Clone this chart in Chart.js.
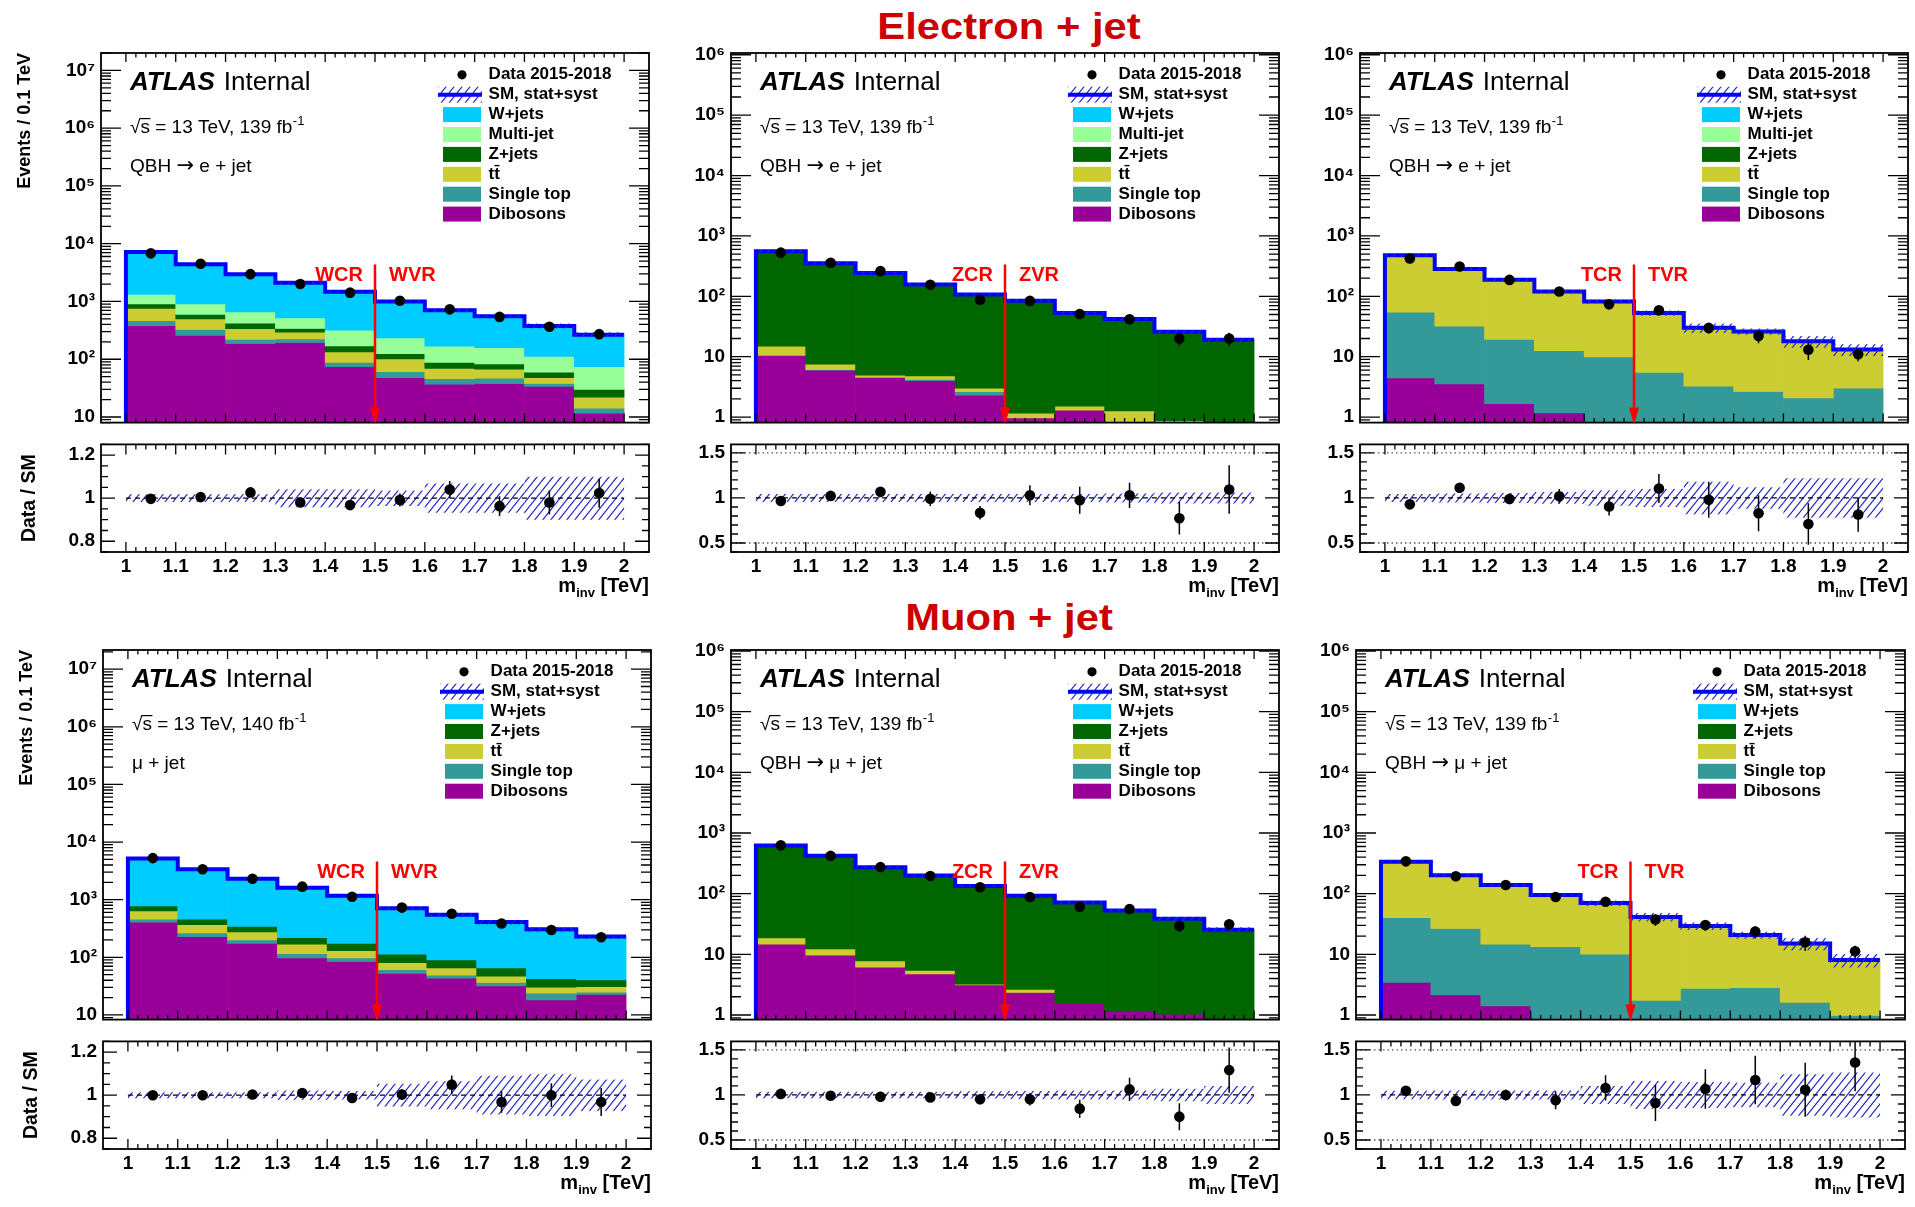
<!DOCTYPE html>
<html>
<head>
<meta charset="utf-8">
<script src="https://cdn.jsdelivr.net/npm/chart.js@4.4.1/dist/chart.umd.min.js"></script>
<style>
  html, body { margin: 0; padding: 0; background: #fff; }
  #root { position: relative; width: 1915px; height: 1207px; overflow: hidden; background: #fff; }
  #root canvas { position: absolute; }
  .ttl { position: absolute; font: bold 36px "Liberation Sans", Arial, Helvetica, sans-serif; line-height: 36px;
         color: #cc0000; white-space: nowrap; transform: translateX(-50%) scaleX(1.16); }
</style>
</head>
<body>
<div id="root">
  <div class="ttl" style="left:1009px; top:9px;">Electron + jet</div>
  <div class="ttl" style="left:1009px; top:600px;">Muon + jet</div>
</div>
<script>
// ---------------- DATA ----------------
const binEdges   = [1.0, 1.1, 1.2, 1.3, 1.4, 1.5, 1.6, 1.7, 1.8, 1.9, 2.0];
const binCenters = [1.05, 1.15, 1.25, 1.35, 1.45, 1.55, 1.65, 1.75, 1.85, 1.95];
const xTickLabels = ['1', '1.1', '1.2', '1.3', '1.4', '1.5', '1.6', '1.7', '1.8', '1.9', '2'];
const regionBoundary = 1.5;

// stack order bottom -> top
const sampleNames  = ['Dibosons', 'Single top', 'tt\u0304', 'Z+jets', 'Multi-jet', 'W+jets'];
const sampleColors = ['#990099', '#339999', '#cccc33', '#006600', '#99ff99', '#00ccff'];

// Electron + jet, W+jets region
const eW_dibosons  = [382, 258, 187, 195, 74, 48, 37, 38, 34, 11.7];
const eW_singletop = [82, 69, 34, 30, 14, 13, 9, 9, 4, 2.5];
const eW_ttbar     = [293, 171, 116, 68, 46, 40, 23, 20, 10, 7.8];
const eW_zjets     = [151, 99, 84, 48, 36, 24, 19, 16, 12, 8];
const eW_multijet  = [412, 313, 237, 178, 148, 109, 80, 75, 52, 44];
const eW_wjets     = [5840, 3480, 2312, 1581, 1162, 766, 537, 398, 265, 192];
const eW_data      = [6800, 4500, 2970, 2000, 1420, 1030, 730, 540, 366, 272];
const eW_ratio     = [0.997, 1.005, 1.027, 0.98, 0.968, 0.992, 1.04, 0.963, 0.98, 1.024];
const eW_ratioErr  = [0.005, 0.006, 0.008, 0.01, 0.015, 0.03, 0.04, 0.046, 0.056, 0.068];
const eW_band      = [0.018, 0.018, 0.018, 0.042, 0.042, 0.036, 0.068, 0.068, 0.1, 0.1];

// Electron + jet, Z+jets region
const eZ_dibosons  = [10.4, 6.0, 4.5, 4.0, 2.3, 0.97, 1.3, 0, 0, 0];
const eZ_singletop = [0.2, 0.1, 0.1, 0.2, 0.33, 0, 0, 0, 0, 0];
const eZ_ttbar     = [4.3, 1.4, 0.35, 0.6, 0.37, 0.19, 0.21, 1.27, 0.87, 0];
const eZ_zjets     = [542, 346, 239, 152, 104, 83, 51.5, 40.7, 25.1, 19];
const eZ_multijet  = [0, 0, 0, 0, 0, 0, 0, 0, 0, 0];
const eZ_wjets     = [0, 0, 0, 0, 0, 0, 0, 0, 0, 0];
const eZ_data      = [528, 359, 261, 155, 87.5, 84, 51, 41.5, 20, 20];
const eZ_ratio     = [0.966, 1.023, 1.068, 0.992, 0.835, 1.03, 0.974, 1.03, 0.774, 1.094];
const eZ_ratioErr  = [0.03, 0.04, 0.05, 0.08, 0.075, 0.11, 0.15, 0.14, 0.18, 0.27];
const eZ_band      = [0.045, 0.045, 0.045, 0.045, 0.045, 0.045, 0.045, 0.05, 0.06, 0.06];

// Electron + jet, top region
const eT_dibosons  = [4.46, 3.55, 1.66, 1.17, 0, 0, 0, 0, 0, 0];
const eT_singletop = [50.3, 28.6, 17.7, 11.4, 9.9, 5.5, 3.24, 2.65, 2.08, 3.0];
const eT_ttbar     = [422, 251, 168, 107, 72, 47.5, 26.8, 23.6, 16, 10.2];
const eT_zjets     = [0, 0, 0, 0, 0, 0, 0, 0, 0, 0];
const eT_multijet  = [0, 0, 0, 0, 0, 0, 0, 0, 0, 0];
const eT_wjets     = [0, 0, 0, 0, 0, 0, 0, 0, 0, 0];
const eT_data      = [423, 311, 187, 120, 73.6, 58.6, 30, 22, 13, 11];
const eT_ratio     = [0.929, 1.113, 0.989, 1.019, 0.906, 1.105, 0.981, 0.831, 0.711, 0.816];
const eT_ratioErr  = [0.03, 0.045, 0.06, 0.08, 0.1, 0.16, 0.2, 0.2, 0.23, 0.19];
const eT_band      = [0.045, 0.05, 0.055, 0.065, 0.085, 0.1, 0.18, 0.12, 0.22, 0.22];

// Muon + jet, W+jets region
const mW_dibosons  = [408, 229, 174, 98, 84.7, 52.6, 43.6, 31.8, 18.3, 22.8];
const mW_singletop = [50, 36, 27, 18, 13.3, 8.2, 5.4, 4.8, 5.5, 2.0];
const mW_ttbar     = [181, 104, 76, 53, 33, 20.2, 16.3, 10.3, 6.6, 6.0];
const mW_zjets     = [143, 89, 67, 51, 43, 32, 24.4, 18.4, 12.0, 9.7];
const mW_wjets     = [4408, 2907, 1966, 1390, 998, 594, 456, 343, 264, 189];
const mW_data      = [5260, 3365, 2310, 1682, 1122, 728, 569, 385, 297, 223];
const mW_ratio     = [1.0, 1.0, 1.003, 1.01, 0.987, 1.003, 1.049, 0.968, 1.0, 0.968];
const mW_ratioErr  = [0.004, 0.005, 0.006, 0.015, 0.02, 0.025, 0.043, 0.05, 0.055, 0.065];
const mW_band      = [0.014, 0.014, 0.014, 0.022, 0.02, 0.053, 0.065, 0.09, 0.097, 0.073];

// Muon + jet, Z+jets region
const mZ_dibosons  = [14.7, 9.7, 6.17, 4.75, 3.14, 2.35, 1.58, 1.15, 1.03, 0];
const mZ_singletop = [0, 0, 0, 0, 0, 0, 0, 0, 0, 0];
const mZ_ttbar     = [3.9, 2.6, 1.6, 0.7, 0.09, 0.28, 0, 0, 0, 0];
const mZ_zjets     = [607, 408, 266, 194, 131, 89.4, 70.2, 51.9, 37.7, 25.5];
const mZ_wjets     = [0, 0, 0, 0, 0, 0, 0, 0, 0, 0];
const mZ_data      = [626, 420, 274, 196, 128, 88, 61, 56, 29.3, 31.4];
const mZ_ratio     = [1.012, 0.992, 0.981, 0.973, 0.953, 0.953, 0.848, 1.062, 0.759, 1.276];
const mZ_ratioErr  = [0.02, 0.025, 0.03, 0.045, 0.055, 0.07, 0.1, 0.13, 0.15, 0.25];
const mZ_band      = [0.035, 0.035, 0.035, 0.035, 0.04, 0.045, 0.05, 0.05, 0.07, 0.1];

// Muon + jet, top region
const mT_dibosons  = [3.46, 2.14, 1.41, 0, 0, 0, 0, 0, 0, 0];
const mT_singletop = [36.8, 24.5, 13.3, 13.4, 10.1, 1.74, 2.74, 2.81, 1.62, 0.98];
const mT_ttbar     = [297, 175, 124, 81.3, 59.8, 39.7, 26.6, 18, 13.5, 7.1];
const mT_zjets     = [0, 0, 0, 0, 0, 0, 0, 0, 0, 0];
const mT_wjets     = [0, 0, 0, 0, 0, 0, 0, 0, 0, 0];
const mT_data      = [341, 194, 139, 88, 73.8, 37.6, 30.5, 23.8, 15.8, 11.2];
const mT_ratio     = [1.047, 0.934, 1.0, 0.942, 1.078, 0.911, 1.066, 1.167, 1.058, 1.36];
const mT_ratioErr  = [0.04, 0.05, 0.06, 0.1, 0.14, 0.2, 0.22, 0.27, 0.3, 0.32];
const mT_band      = [0.048, 0.05, 0.05, 0.05, 0.1, 0.155, 0.145, 0.135, 0.23, 0.25];

const narrowRatioTicks = ['0.8', '1', '1.2'];
const wideRatioTicks   = ['0.5', '1', '1.5'];
const wideRatioGuides  = [0.5, 1.5];

// ---------------- LAYOUT ----------------
const FONT = '"Liberation Sans", Arial, Helvetica, sans-serif';
const ARROW_FONT = '"DejaVu Sans", sans-serif';
Chart.defaults.font.family = FONT;
Chart.defaults.color = '#000';

const ROWS = [
  {mainTop: 53, mainBot: 430, ratioTop: 439, ratioBot: 552},
  {mainTop: 650, mainBot: 1027, ratioTop: 1036, ratioBot: 1149}
];
const YW = 100, PADR = 10, XH = 56;

const panels = [
  {row: 0, left: 101, right: 649, first: true,
   comps: [eW_dibosons, eW_singletop, eW_ttbar, eW_zjets, eW_multijet, eW_wjets],
   data: eW_data, ratio: eW_ratio, ratioErr: eW_ratioErr, band: eW_band,
   yMin: 8.0, yMax: 2.0e7, rMin: 0.75, rMax: 1.25, rTicks: narrowRatioTicks, rStep: 0.05, guides: [],
   lumi: '139', channel: ['QBH ', '\u2192', ' e + jet'], regions: ['WCR', 'WVR']},
  {row: 0, left: 731, right: 1279, first: false,
   comps: [eZ_dibosons, eZ_singletop, eZ_ttbar, eZ_zjets, eZ_multijet, eZ_wjets],
   data: eZ_data, ratio: eZ_ratio, ratioErr: eZ_ratioErr, band: eZ_band,
   yMin: 0.81, yMax: 1.07e6, rMin: 0.4, rMax: 1.595, rTicks: wideRatioTicks, rStep: 0.1, guides: wideRatioGuides,
   lumi: '139', channel: ['QBH ', '\u2192', ' e + jet'], regions: ['ZCR', 'ZVR']},
  {row: 0, left: 1360, right: 1908, first: false,
   comps: [eT_dibosons, eT_singletop, eT_ttbar, eT_zjets, eT_multijet, eT_wjets],
   data: eT_data, ratio: eT_ratio, ratioErr: eT_ratioErr, band: eT_band,
   yMin: 0.81, yMax: 1.07e6, rMin: 0.4, rMax: 1.595, rTicks: wideRatioTicks, rStep: 0.1, guides: wideRatioGuides,
   lumi: '139', channel: ['QBH ', '\u2192', ' e + jet'], regions: ['TCR', 'TVR']},
  {row: 1, left: 103, right: 651, first: true,
   comps: [mW_dibosons, mW_singletop, mW_ttbar, mW_zjets, null, mW_wjets],
   data: mW_data, ratio: mW_ratio, ratioErr: mW_ratioErr, band: mW_band,
   yMin: 8.3, yMax: 2.15e7, rMin: 0.75, rMax: 1.25, rTicks: narrowRatioTicks, rStep: 0.05, guides: [],
   lumi: '140', channel: ['\u03bc + jet'], regions: ['WCR', 'WVR']},
  {row: 1, left: 731, right: 1279, first: false,
   comps: [mZ_dibosons, mZ_singletop, mZ_ttbar, mZ_zjets, null, mZ_wjets],
   data: mZ_data, ratio: mZ_ratio, ratioErr: mZ_ratioErr, band: mZ_band,
   yMin: 0.84, yMax: 1.04e6, rMin: 0.4, rMax: 1.595, rTicks: wideRatioTicks, rStep: 0.1, guides: wideRatioGuides,
   lumi: '139', channel: ['QBH ', '\u2192', ' \u03bc + jet'], regions: ['ZCR', 'ZVR']},
  {row: 1, left: 1356, right: 1905, first: false,
   comps: [mT_dibosons, mT_singletop, mT_ttbar, mT_zjets, null, mT_wjets],
   data: mT_data, ratio: mT_ratio, ratioErr: mT_ratioErr, band: mT_band,
   yMin: 0.84, yMax: 1.04e6, rMin: 0.4, rMax: 1.595, rTicks: wideRatioTicks, rStep: 0.1, guides: wideRatioGuides,
   lumi: '139', channel: ['QBH ', '\u2192', ' \u03bc + jet'], regions: ['TCR', 'TVR']}
];

// ---------------- HELPERS ----------------
const SUP = {'0': '\u2070', '1': '\u00b9', '2': '\u00b2', '3': '\u00b3', '4': '\u2074', '5': '\u2075', '6': '\u2076', '7': '\u2077', '8': '\u2078', '9': '\u2079'};
function decadeLabel(v) {
  const e = Math.round(Math.log10(v));
  if (e === 0) return '1';
  if (e === 1) return '10';
  return '10' + String(e).split('').map(c => SUP[c]).join('');
}
function hatchPattern(ctx) {
  const c = document.createElement('canvas');
  c.width = 8; c.height = 10;
  const g = c.getContext('2d');
  g.strokeStyle = '#2828c8';
  g.lineWidth = 1.15;
  g.beginPath();
  g.moveTo(-1, 11.25); g.lineTo(9, -1.25);
  g.moveTo(-1, 1.25); g.lineTo(1, -1.25);
  g.moveTo(7, 11.25); g.lineTo(9, 8.75);
  g.stroke();
  return ctx.createPattern(c, 'repeat');
}
const xTickVals = xTickLabels.map(Number);
function xTickSpec() {
  const out = [], lo = binEdges[0], hi = binEdges[binEdges.length - 1];
  for (let i = 0; i <= 50; i++) out.push({v: lo + i * (hi - lo) / 50, major: i % 5 === 0});
  return out;
}
function logTickSpec(min, max) {
  const out = [];
  for (let e = Math.floor(Math.log10(min)); e <= Math.ceil(Math.log10(max)); e++)
    for (let k = 1; k <= 9; k++) {
      const v = k * Math.pow(10, e);
      if (v >= min && v <= max) out.push({v, major: k === 1});
    }
  return out;
}
function linTickSpec(min, max, step, majors) {
  const out = [];
  for (let i = Math.ceil(min / step - 1e-9); i * step <= max + 1e-9; i++) {
    const v = i * step;
    out.push({v, major: majors.some(m => Math.abs(m - v) < 1e-6)});
  }
  return out;
}
function frameTicksPlugin(spec) {
  return {
    id: 'frameTicks',
    afterDatasetsDraw(chart) {
      const {ctx, chartArea: a, scales: {x, y}} = chart;
      ctx.save();
      ctx.strokeStyle = '#000';
      ctx.lineWidth = 1.3;
      ctx.beginPath();
      for (const t of spec.x) {
        const px = x.getPixelForValue(t.v);
        const len = t.major ? spec.xMaj : spec.xMin;
        ctx.moveTo(px, a.bottom); ctx.lineTo(px, a.bottom - len);
        ctx.moveTo(px, a.top); ctx.lineTo(px, a.top + len);
      }
      for (const t of spec.y) {
        const py = y.getPixelForValue(t.v);
        if (py < a.top - 0.5 || py > a.bottom + 0.5) continue;
        const len = t.major ? spec.yMaj : spec.yMin;
        ctx.moveTo(a.left, py); ctx.lineTo(a.left + len, py);
        ctx.moveTo(a.right, py); ctx.lineTo(a.right - len, py);
      }
      ctx.stroke();
      ctx.lineWidth = 1.8;
      ctx.strokeRect(a.left, a.top, a.right - a.left, a.bottom - a.top);
      ctx.restore();
    }
  };
}
function mainAnnotPlugin(p, getPattern) {
  return {
    id: 'mainAnnot',
    afterDraw(chart) {
      const {ctx, chartArea: a, scales: {x}} = chart;
      const L = a.left, T = a.top;
      ctx.save();
      ctx.textAlign = 'left';
      ctx.fillStyle = '#000';
      ctx.textBaseline = 'middle';
      ctx.font = `italic bold 26px ${FONT}`;
      ctx.fillText('ATLAS', L + 29, T + 30);
      const wA = ctx.measureText('ATLAS').width;
      ctx.font = `26px ${FONT}`;
      ctx.fillText('Internal', L + 29 + wA + 9, T + 30);

      // sqrt(s) line
      ctx.textBaseline = 'alphabetic';
      const base1 = T + 80;
      ctx.font = `19px ${FONT}`;
      const rad = '\u221a';
      const mRad = ctx.measureText(rad);
      const wRad = mRad.width;
      const wRs = ctx.measureText(rad + 's').width;
      const en = rad + 's = 13 TeV, ' + p.lumi + ' fb';
      ctx.fillText(en, L + 29, base1);
      ctx.strokeStyle = '#000'; ctx.lineWidth = 1.2;
      const topRad = base1 - mRad.actualBoundingBoxAscent + 0.6;
      ctx.beginPath(); ctx.moveTo(L + 29 + wRad - 0.8, topRad); ctx.lineTo(L + 29 + wRs + 0.5, topRad); ctx.stroke();
      const wE = ctx.measureText(en).width;
      ctx.font = `13px ${FONT}`;
      ctx.fillText('-1', L + 29 + wE + 0.5, base1 - 8);

      // channel line (arrow glyph from a font with a longer arrow)
      const base2 = T + 119;
      let cx = L + 29;
      p.channel.forEach(part => {
        ctx.font = part === '\u2192' ? `21px ${ARROW_FONT}` : `19px ${FONT}`;
        ctx.fillText(part, cx, part === '\u2192' ? base2 - 0.5 : base2);
        cx += ctx.measureText(part).width;
      });

      // legend
      ctx.textBaseline = 'middle';
      const entries = [{kind: 'data', label: 'Data 2015-2018'}, {kind: 'sm', label: 'SM, stat+syst'}];
      for (let k = p.comps.length - 1; k >= 0; k--)
        if (p.comps[k]) entries.push({kind: 'box', label: sampleNames[k], color: sampleColors[k]});
      entries.forEach((e, i) => {
        const cy = T + 21.8 + 19.9 * i;
        if (e.kind === 'data') {
          ctx.beginPath(); ctx.arc(L + 361, cy, 4.6, 0, 2 * Math.PI);
          ctx.fillStyle = '#000'; ctx.fill();
        } else if (e.kind === 'sm') {
          ctx.fillStyle = getPattern(); ctx.fillRect(L + 337, cy - 8, 44, 16);
          ctx.strokeStyle = '#0000ff'; ctx.lineWidth = 4;
          ctx.beginPath(); ctx.moveTo(L + 337, cy); ctx.lineTo(L + 381, cy); ctx.stroke();
        } else {
          ctx.fillStyle = e.color; ctx.fillRect(L + 342, cy - 7.5, 38, 15);
        }
        ctx.fillStyle = '#000';
        ctx.font = `bold 17px ${FONT}`;
        ctx.fillText(e.label, L + 387.6, cy);
      });

      // control / validation region marker
      const xb = x.getPixelForValue(regionBoundary);
      ctx.fillStyle = '#ff0000';
      ctx.font = `bold 20px ${FONT}`;
      ctx.textAlign = 'right'; ctx.fillText(p.regions[0], xb - 12, T + 222);
      ctx.textAlign = 'left'; ctx.fillText(p.regions[1], xb + 14, T + 222);
      ctx.strokeStyle = '#ff0000'; ctx.lineWidth = 2.5;
      ctx.beginPath(); ctx.moveTo(xb, T + 211.5); ctx.lineTo(xb, a.bottom - 10); ctx.stroke();
      ctx.beginPath(); ctx.moveTo(xb - 5, a.bottom - 15); ctx.lineTo(xb + 5, a.bottom - 15); ctx.lineTo(xb, a.bottom + 2);
      ctx.closePath(); ctx.fill();
      ctx.restore();
    }
  };
}
function ratioAnnotPlugin(p) {
  return {
    id: 'ratioAnnot',
    beforeDatasetsDraw(chart) {
      const {ctx, chartArea: a, scales: {y}} = chart;
      ctx.save();
      ctx.strokeStyle = '#555';
      ctx.lineWidth = 1.3;
      ctx.setLineDash([1.5, 3]);
      for (const g of p.guides) {
        const py = y.getPixelForValue(g);
        ctx.beginPath(); ctx.moveTo(a.left, py); ctx.lineTo(a.right, py); ctx.stroke();
      }
      ctx.restore();
    },
    afterDraw(chart) {
      const {ctx, chartArea: a} = chart;
      ctx.save();
      ctx.fillStyle = '#000';
      ctx.textBaseline = 'alphabetic';
      ctx.textAlign = 'left';
      ctx.font = `bold 20px ${FONT}`;
      const wm = ctx.measureText('m').width;
      const rest = ' [TeV]';
      const wr = ctx.measureText(rest).width;
      ctx.font = `bold 13px ${FONT}`;
      const ws = ctx.measureText('inv').width;
      const x0 = a.right - (wm + ws + wr);
      const base = a.bottom + 40;
      ctx.font = `bold 20px ${FONT}`;
      ctx.fillText('m', x0, base);
      ctx.fillText(rest, x0 + wm + ws, base);
      ctx.font = `bold 13px ${FONT}`;
      ctx.fillText('inv', x0 + wm, base + 5);
      ctx.restore();
    }
  };
}

function addCanvas(left, top, w, h) {
  const c = document.createElement('canvas');
  c.width = w; c.height = h;
  c.style.left = left + 'px'; c.style.top = top + 'px';
  c.style.width = w + 'px'; c.style.height = h + 'px';
  document.getElementById('root').appendChild(c);
  return c;
}

const tickFont = {family: FONT, size: 19, weight: 'bold'};
const baseOpts = {
  responsive: false, animation: false, devicePixelRatio: 1, events: [],
  plugins: {legend: {display: false}, tooltip: {enabled: false}}
};

function buildPanel(p) {
  const R = ROWS[p.row];
  const fw = p.right - p.left;
  const W = YW + fw + PADR;

  // ----- main pad -----
  const mH = 20 + (R.mainBot - R.mainTop) + 10;
  const c1 = addCanvas(p.left - YW, R.mainTop - 20, W, mH);
  const ctx1 = c1.getContext('2d');
  const pat1 = hatchPattern(ctx1);
  const floor = p.yMin / 10;   // below the visible axis range (a log axis cannot start at 0)

  const cum = binCenters.map(() => 0);
  const ds = [];
  p.comps.forEach((arr, k) => {
    if (!arr) return;
    const lo = cum.slice();
    arr.forEach((v, i) => { cum[i] += v; });
    ds.push({
      type: 'bar',
      data: binCenters.map((c, i) => ({x: c, y: arr[i] > 0 ? [Math.max(lo[i], floor), cum[i]] : null})),
      backgroundColor: sampleColors[k], borderWidth: 0,
      grouped: false, barPercentage: 1, categoryPercentage: 1, order: 30 - k
    });
  });
  const total = cum;
  ds.push({
    type: 'line',
    data: [{x: binEdges[0], y: p.yMin}]
      .concat(binEdges.slice(0, 10).map((e, i) => ({x: e, y: total[i]})))
      .concat([{x: binEdges[10], y: total[9]}]),
    stepped: true, borderColor: '#0000ff', borderWidth: 4, pointRadius: 0, fill: false, order: 8
  });
  ds.push({
    type: 'bar',
    data: binCenters.map((c, i) => ({x: c, y: [total[i] * (1 - p.band[i]), total[i] * (1 + p.band[i])]})),
    backgroundColor: pat1, borderWidth: 0, inflateAmount: 0,
    grouped: false, barPercentage: 1, categoryPercentage: 1, order: 7
  });
  ds.push({
    type: 'bar',
    data: binCenters.map((c, i) => {
      const e = p.data[i] * p.ratioErr[i] / p.ratio[i];
      return {x: c, y: [p.data[i] - e, p.data[i] + e]};
    }),
    backgroundColor: '#000', borderWidth: 0, inflateAmount: 0, grouped: false, barThickness: 1.5, order: 2
  });
  ds.push({
    type: 'line',
    data: binCenters.map((c, i) => ({x: c, y: p.data[i]})),
    showLine: false, pointRadius: 5.3, pointBackgroundColor: '#000', pointBorderWidth: 0, order: 1
  });

  const decades = logTickSpec(p.yMin, p.yMax).filter(t => t.major).map(t => t.v);
  new Chart(ctx1, {
    type: 'bar',
    data: {datasets: ds},
    options: Object.assign({}, baseOpts, {
      layout: {padding: {left: 0, top: 20, right: PADR, bottom: 10}},
      scales: {
        x: {type: 'linear', min: binEdges[0], max: binEdges[10], display: false,
            afterBuildTicks: s => { s.ticks = xTickVals.map(v => ({value: v})); }},
        y: {type: 'logarithmic', min: p.yMin, max: p.yMax,
            afterFit: s => { s.width = YW; },
            afterBuildTicks: s => { s.ticks = decades.map(v => ({value: v})); },
            ticks: {callback: v => decadeLabel(v), font: tickFont, color: '#000', padding: 6, autoSkip: false, maxRotation: 0},
            grid: {display: false, drawTicks: false}, border: {display: false},
            title: {display: p.first, text: 'Events / 0.1 TeV', align: 'end', color: '#000',
                    font: {family: FONT, size: 18, weight: 'bold'}, padding: {top: 13.2, bottom: 0}}}
      }
    }),
    plugins: [
      frameTicksPlugin({x: xTickSpec(), y: logTickSpec(p.yMin, p.yMax), xMaj: 9, xMin: 4.5, yMaj: 20, yMin: 10}),
      mainAnnotPlugin(p, () => pat1)
    ]
  });

  // ----- ratio pad -----
  const rH = 12 + (R.ratioBot - R.ratioTop) + XH;
  const c2 = addCanvas(p.left - YW, R.ratioTop - 12, W, rH);
  const ctx2 = c2.getContext('2d');
  const pat2 = hatchPattern(ctx2);
  const rTickVals = p.rTicks.map(Number);
  const rds = [
    {type: 'bar',
     data: binCenters.map((c, i) => ({x: c, y: [1 - p.band[i], 1 + p.band[i]]})),
     backgroundColor: pat2, borderWidth: 0, inflateAmount: 0,
     grouped: false, barPercentage: 1, categoryPercentage: 1, order: 10},
    {type: 'line',
     data: [{x: binEdges[0], y: 1}, {x: binEdges[10], y: 1}],
     borderColor: '#000', borderWidth: 1.2, borderDash: [5, 4], pointRadius: 0, fill: false, order: 5},
    {type: 'bar',
     data: binCenters.map((c, i) => ({x: c, y: [p.ratio[i] - p.ratioErr[i], p.ratio[i] + p.ratioErr[i]]})),
     backgroundColor: '#000', borderWidth: 0, inflateAmount: 0, grouped: false, barThickness: 1.5, order: 2},
    {type: 'line',
     data: binCenters.map((c, i) => ({x: c, y: p.ratio[i]})),
     showLine: false, pointRadius: 5.3, pointBackgroundColor: '#000', pointBorderWidth: 0, order: 1}
  ];
  new Chart(ctx2, {
    type: 'bar',
    data: {datasets: rds},
    options: Object.assign({}, baseOpts, {
      layout: {padding: {left: 0, top: 12, right: PADR, bottom: 0}},
      scales: {
        x: {type: 'linear', min: binEdges[0], max: binEdges[10],
            afterFit: s => { s.height = XH; },
            afterBuildTicks: s => { s.ticks = xTickVals.map(v => ({value: v})); },
            ticks: {callback: (v, i) => xTickLabels[i], font: tickFont, color: '#000', padding: 3.5, autoSkip: false, maxRotation: 0},
            grid: {display: false, drawTicks: false}, border: {display: false}},
        y: {type: 'linear', min: p.rMin, max: p.rMax,
            afterFit: s => { s.width = YW; },
            afterBuildTicks: s => { s.ticks = rTickVals.map(v => ({value: v})); },
            ticks: {callback: (v, i) => p.rTicks[i], font: tickFont, color: '#000', padding: 6, autoSkip: false, maxRotation: 0},
            grid: {display: false, drawTicks: false}, border: {display: false},
            title: {display: p.first, text: 'Data / SM', align: 'center', color: '#000',
                    font: {family: FONT, size: 19.5, weight: 'bold'}, padding: {top: 17.3, bottom: 0}}}
      }
    }),
    plugins: [
      frameTicksPlugin({x: xTickSpec(), y: linTickSpec(p.rMin, p.rMax, p.rStep, rTickVals), xMaj: 10, xMin: 5, yMaj: 14, yMin: 7}),
      ratioAnnotPlugin(p)
    ]
  });
}

panels.forEach(buildPanel);
</script>
</body>
</html>
